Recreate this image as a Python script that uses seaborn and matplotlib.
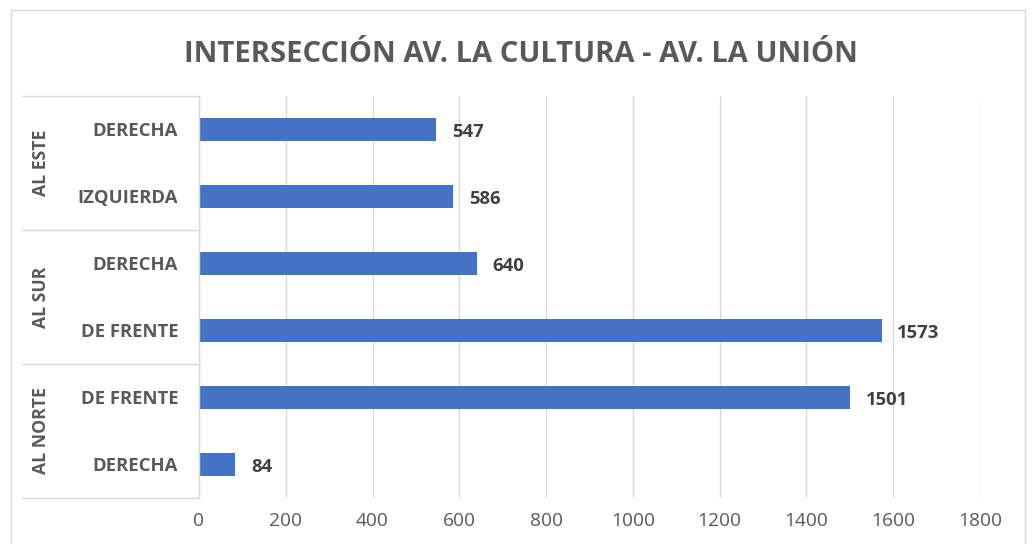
import matplotlib
matplotlib.use("Agg")
import matplotlib.pyplot as plt
import matplotlib.transforms as mtransforms
import seaborn as sns
import pandas as pd

title = "INTERSECCIÓN AV. LA CULTURA - AV. LA UNIÓN"
groups = ["AL ESTE", "AL ESTE", "AL SUR", "AL SUR", "AL NORTE", "AL NORTE"]
subcats = ["DERECHA", "IZQUIERDA", "DERECHA", "DE FRENTE", "DE FRENTE", "DERECHA"]
values = [547, 586, 640, 1573, 1501, 84]
xticks = [0, 200, 400, 600, 800, 1000, 1200, 1400, 1600, 1800]

sns.set_theme(style="white")
plt.rcParams['font.family'] = ['Open Sans', 'DejaVu Sans']

df = pd.DataFrame({
    "key": [f"{g}|{s}" for g, s in zip(groups, subcats)],
    "group": groups,
    "sub": subcats,
    "value": values,
})

W, H = 1033, 544
fig = plt.figure(figsize=(W / 100, H / 100), dpi=100)
fig.patch.set_facecolor("white")
left, right, top, bottom = 199, 980, 96, 498
ax = fig.add_axes([left / W, 1 - bottom / H, (right - left) / W, (bottom - top) / H])

sns.barplot(data=df, y="key", x="value", orient="h", color="#4472C4",
            width=0.33, saturation=1, ax=ax, edgecolor="#4472C4", linewidth=0)

n = len(subcats)
ax.set_ylim(n - 0.5, -0.5)
ax.set_xlim(0, 1800)
ax.set_xticks(xticks)
ax.set_xticklabels([str(t) for t in xticks], color="#595959", fontsize=13.8)
ax.tick_params(axis="x", length=0, pad=10)
ax.xaxis.grid(True, color="#D9D9D9", linewidth=1)
ax.set_axisbelow(True)
for s in ["top", "right", "bottom"]:
    ax.spines[s].set_visible(False)
ax.spines["left"].set_color("#D9D9D9")
ax.spines["left"].set_linewidth(1)

ax.set_yticks(range(n))
ax.set_yticklabels(subcats, color="#595959", fontsize=13.3, fontweight="bold")
ax.tick_params(axis="y", length=0, pad=15)
ax.set_xlabel("")
ax.set_ylabel("")

# data labels
for i, v in enumerate(values):
    ax.text(v + 36, i + 0.04, str(v), va="center", ha="left", fontsize=13.3,
            fontweight="bold", color="#404040")

# multi-level category frame
trans = mtransforms.blended_transform_factory(ax.transAxes, ax.transData)
x0 = (22 - left) / (right - left)
for yb in [-0.5, 1.5, 3.5, n - 0.5]:
    ax.plot([x0, 0], [yb, yb], transform=trans, color="#D9D9D9", lw=1, clip_on=False)

# group labels
xg = (41 - left) / (right - left)
seen = []
for g in groups:
    if g not in seen:
        seen.append(g)
for g in seen:
    idx = [i for i, gg in enumerate(groups) if gg == g]
    yc = sum(idx) / len(idx)
    ax.text(xg, yc, g, transform=trans, rotation=90, ha="center", va="center",
            fontsize=12.7, fontweight="bold", color="#595959")

# title
fig.text(521 / W, 1 - 62 / H, title, ha="center", va="baseline",
         fontsize=21, fontweight="bold", color="#595959")

# outer chart border
fig.add_artist(plt.Rectangle((11 / W, -0.05), (1025 - 11) / W, 1.05 - 10 / H,
                             transform=fig.transFigure, fill=False,
                             edgecolor="#D9D9D9", lw=1))

fig.savefig("out.png", dpi=100)
